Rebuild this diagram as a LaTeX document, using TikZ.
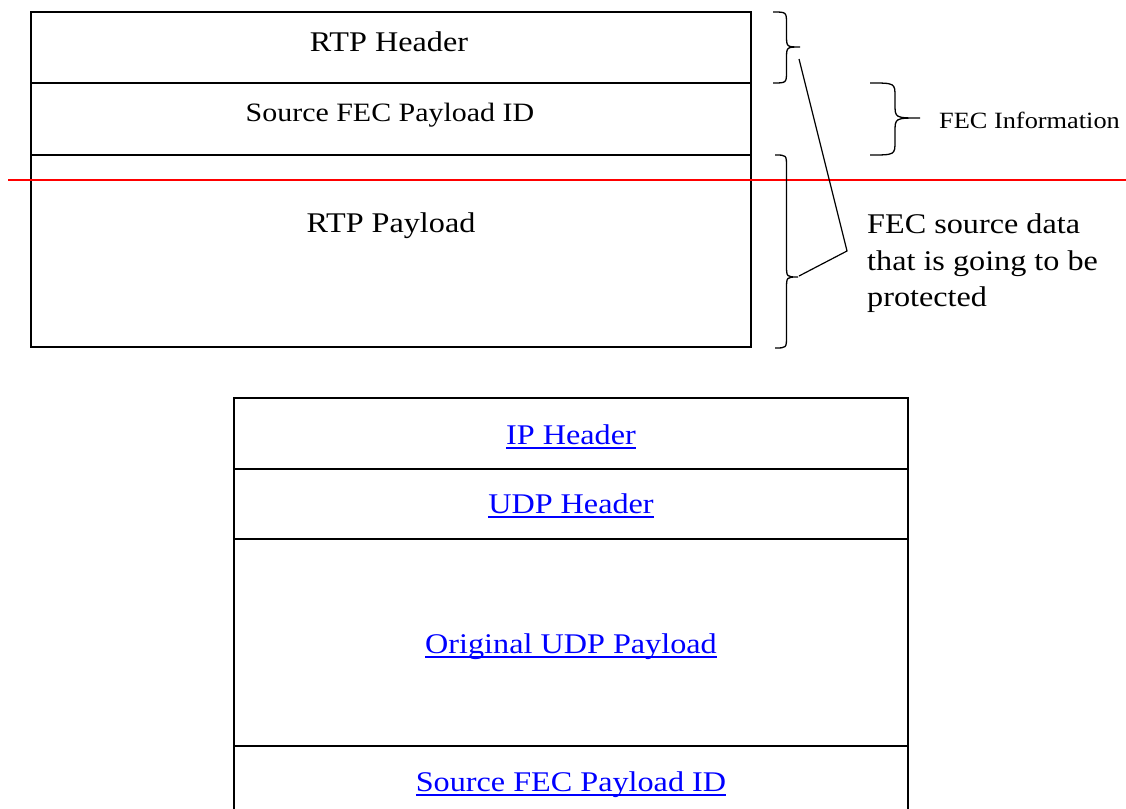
\documentclass[tikz,border=0pt]{standalone}
\usepackage{fontspec}
\setmainfont{Liberation Serif}[FakeStretch=1.13]
\newcommand\linkul[1]{\setbox0\hbox{#1}\rlap{\rule[-4.6pt]{\wd0}{1.7pt}}\box0}
\newcommand\bracepath[6]{% x0 x1 ytop ymid ybot rv
  \pgfmathsetmacro\bxs{(#1+#2)/2}%
  \draw[bracestyle] (#1,#3) .. controls (\bxs,#3) .. (\bxs,#3+#6) -- (\bxs,#4-#6)
    .. controls (\bxs,#4) .. (#2,#4) .. controls (\bxs,#4) .. (\bxs,#4+#6)
    -- (\bxs,#5-#6) .. controls (\bxs,#5) .. (#1,#5);}
\begin{document}
\begin{tikzpicture}[x=1pt,y=-1pt,
  boxline/.style={line width=1.6pt},
  bracestyle/.style={line width=1.3pt},
  linkline/.style={line width=1.2pt},
  redline/.style={line width=1.5pt, draw=red},
  big/.style={font=\fontsize{28.5}{34}\selectfont, inner sep=0pt, anchor=base},
  mid/.style={font=\fontsize{26.5}{32}\selectfont, inner sep=0pt, anchor=base},
  small/.style={font=\fontsize{23.3}{28}\selectfont, inner sep=0pt, anchor=base west},
  linktext/.style={big, text=blue}]
\useasboundingbox (0,0) rectangle (1126,808);
\clip (0,0) rectangle (1126,808);
% top box
\draw[boxline] (31,12) rectangle (751,347);
\draw[boxline] (31,83) -- (751,83);
\draw[boxline] (31,155) -- (751,155);
\node[big] (rtph) at (389,52) {RTP Header};
\node[mid] (sfpid) at (390,121) {Source FEC Payload ID};
\node[big] (rtpp) at (391,232) {RTP Payload};
% red line
\draw[redline] (8,180) -- (1126,180);
% braces
\bracepath{773}{800}{12}{47}{83}{12}
\bracepath{870}{920}{83}{118}{155}{14}
\bracepath{775}{798}{155}{277}{348}{12}
\node[small] (fecinfo) at (939,128) {FEC Information};
\node[big, anchor=base west, align=left] (fsd) at (867,233) {FEC source data};
\node[big, anchor=base west] (fsd2) at (867,270) {that is going to be};
\node[big, anchor=base west] (fsd3) at (867,306) {protected};
\coordinate (la) at (799,59);
\coordinate (lb) at (847,251);
\coordinate (lc) at (799,276);
\draw[linkline] (la) -- (lb) -- (lc);
% bottom box
\draw[boxline] (234,840) -- (234,398) -- (908,398) -- (908,840);
\draw[boxline] (234,469) -- (908,469);
\draw[boxline] (234,539) -- (908,539);
\draw[boxline] (234,746) -- (908,746);
\node[linktext] (iph) at (571,444) {\linkul{IP Header}};
\node[linktext] (udph) at (571,513) {\linkul{UDP Header}};
\node[linktext] (oudp) at (571,653) {\linkul{Original UDP Payload}};
\node[linktext] (sfpid2) at (571,791) {\linkul{Source FEC Payload ID}};
\end{tikzpicture}
\end{document}
